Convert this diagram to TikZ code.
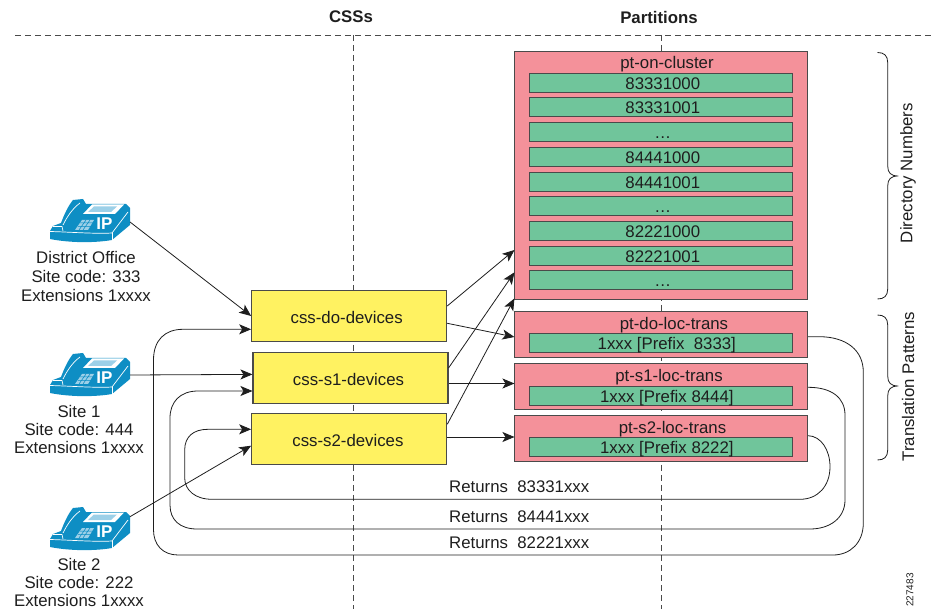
\documentclass[tikz,border=0pt]{standalone}
\usepackage{fontspec}
\setmainfont{Liberation Sans}
\usetikzlibrary{arrows.meta,positioning,calc}
\definecolor{phoneblue}{HTML}{0E8EC4}
\definecolor{keyblue}{HTML}{9CD0E8}
\definecolor{redbox}{HTML}{F4919A}
\definecolor{greenbox}{HTML}{70C59B}
\definecolor{yellowbox}{HTML}{FFF261}
\definecolor{edgegray}{HTML}{4A4A4A}
\definecolor{inkdark}{HTML}{1E1E1E}
\tikzset{
  lbl/.style={font=\fontsize{16.8}{18}\selectfont,text=inkdark,inner sep=0pt},
  hdr/.style={font=\fontsize{16.8}{18}\selectfont\bfseries,text=inkdark,inner sep=0pt},
  cssbox/.style={draw=edgegray,line width=1.1pt,fill=yellowbox,lbl,minimum width=195pt,minimum height=51pt,text height=15pt,text depth=0pt},
  partbox/.style={draw=edgegray,line width=1pt,fill=redbox,minimum width=292.7pt},
  rowbox/.style={draw=edgegray,line width=1pt,fill=greenbox,lbl,minimum width=263pt,minimum height=19pt,text height=13pt,text depth=0pt},
  conn/.style={draw=inkdark,line width=0.8pt,-{Stealth[length=12pt,width=10pt,inset=3pt]}},
  loopline/.style={draw=inkdark,line width=0.8pt,-{Stealth[length=12pt,width=10pt,inset=3pt]}},
  divider/.style={draw=edgegray,line width=0.9pt,dash pattern=on 6pt off 4pt},
  bracepath/.style={draw=inkdark,line width=0.8pt},
  phonebody/.style={fill=phoneblue,draw=none},
  phoneline/.style={draw=white,line width=0.7pt},
  phonespot/.style={minimum width=80pt,minimum height=44pt,inner sep=0pt,outer sep=0pt}
}
\newcommand{\ipphoneicon}[2]{%
\begin{scope}[shift={(#1,#2)}]
  % handset and body silhouette
  \fill[phonebody] (0,32) -- (3,27) -- (11,24) .. controls (14,16) and (18,7) .. (23,1)
     -- (33,0) -- (36,5) -- (76,5) -- (80,9) -- (80,26) -- (62,41)
     .. controls (45,44) and (20,44) .. (0,40) -- cycle;
  % front edge of the base
  \draw[phoneline] (0,32.5) .. controls (20,33) and (45,35) .. (62,34) -- (78,13);
  \draw[phoneline] (62,34) -- (62,41);
  % handset outline
  \draw[phoneline] (3,27.5) -- (12,27.5) -- (13,32);
  \draw[phoneline] (13,26) .. controls (17,18) and (22,10) .. (30,4);
  % screen
  \fill[white] (33,15) -- (42,5.5) -- (74,5.5) -- (65,15) -- cycle;
  \fill[keyblue] (38,13) -- (44,7.5) -- (67,7.5) -- (61,13) -- cycle;
  % keypad
  \fill[keyblue] (25,31) -- (32,21) -- (44,21) -- (38,31) -- cycle;
  \draw[phonebody,draw=phoneblue,line width=0.5pt]
     (28,27.5) -- (41,27.5) (30,24) -- (43,24)
     (29,31) -- (36,21) (33,31) -- (40,21);
  % label
  \node[inner sep=0pt,text=white,font=\fontsize{17}{17}\selectfont\bfseries] (ipmark#2) at (54.5,25) {IP};
\end{scope}}
\newcommand{\brcshape}[3]{%
  \draw[bracepath] (877.5,#1) .. controls (884,#1) and (887.7,{#1+3}) .. (887.7,{#1+10})
    -- (887.7,{#2-10}) .. controls (887.7,{#2-3}) and (891,#2) .. (898.3,#2)
    .. controls (891,#2) and (887.7,{#2+3}) .. (887.7,{#2+10})
    -- (887.7,{#3-10}) .. controls (887.7,{#3-3}) and (884,#3) .. (877.5,#3);}
\begin{document}
\begin{tikzpicture}[x=1pt,y=-1pt]
\useasboundingbox (0,0) rectangle (932,609);
% dividers
\coordinate (ruleL) at (15,35);
\coordinate (ruleR) at (932,35);
\coordinate (cssTop) at (353,35);
\coordinate (cssEnd) at (353,609);
\coordinate (partTop) at (661,35);
\coordinate (partEnd) at (661,609);
\draw[divider] (ruleL) -- (ruleR);
\draw[divider] (cssTop) -- (cssEnd);
\draw[divider] (partTop) -- (partEnd);
% headers
\node[hdr] (hcss) at (351,17) {CSSs};
\node[hdr] (hpart) at (659,18) {Partitions};
% phones
\node[phonespot] (phoneA) at (90,221) {};
\node[phonespot] (phoneB) at (90,375) {};
\node[phonespot] (phoneC) at (90,529) {};
\ipphoneicon{50}{199}
\ipphoneicon{50}{353}
\ipphoneicon{50}{507}
\node[lbl,align=center,font=\fontsize{16.8}{19}\selectfont] (siteA) at (86,276) {District Office\\Site code: 333\\Extensions 1xxxx};
\node[lbl,align=center,font=\fontsize{16.8}{18.2}\selectfont] (siteB) at (79,429.5) {Site 1\\Site code: 444\\Extensions 1xxxx};
\node[lbl,align=center,font=\fontsize{16.8}{18}\selectfont] (siteC) at (79,582.5) {Site 2\\Site code: 222\\Extensions 1xxxx};
% CSS boxes
\node[cssbox] (cssdo) at (349.2,316) {\hspace*{-5pt}css-do-devices};
\node[cssbox] (csss1) at (350.5,377.7) {\hspace*{-4pt}css-s1-devices};
\node[cssbox] (csss2) at (349.2,438.7) {\hspace*{-2.5pt}css-s2-devices};
% partition boxes
\node[partbox,minimum height=247.3pt] (ptcluster) at (661.3,175.4) {};
\node[lbl] (ptclusterT) at (667,64.5) {pt-on-cluster};
\node[rowbox] (r1) at (660.8,82.8) {\hspace*{4pt}83331000};
\node[rowbox] (r2) at (660.8,107.5) {\hspace*{4pt}83331001};
\node[rowbox] (r3) at (660.8,132.2) {\hspace*{4pt}…};
\node[rowbox] (r4) at (660.8,157) {\hspace*{4pt}84441000};
\node[rowbox] (r5) at (660.8,181.8) {\hspace*{4pt}84441001};
\node[rowbox] (r6) at (660.8,206.5) {\hspace*{4pt}…};
\node[rowbox] (r7) at (660.8,231.2) {\hspace*{4pt}82221000};
\node[rowbox] (r8) at (660.8,255.8) {\hspace*{4pt}82221001};
\node[rowbox] (r9) at (660.8,280.5) {\hspace*{4pt}…};
\node[partbox,minimum height=45.6pt] (ptdo) at (661.3,334.5) {};
\node[lbl] (ptdoT) at (674,325) {pt-do-loc-trans};
\node[rowbox] (tdo) at (660.8,343.5) {\hspace*{12pt}1xxx [Prefix\ \ 8333]};
\node[partbox,minimum height=45.6pt] (pts1) at (661.3,386.5) {};
\node[lbl] (pts1T) at (669,377) {pt-s1-loc-trans};
\node[rowbox] (ts1) at (660.8,395.7) {\hspace*{12pt}1xxx [Prefix 8444]};
\node[partbox,minimum height=46pt] (pts2) at (661.3,438.7) {};
\node[lbl] (pts2T) at (672.5,429) {pt-s2-loc-trans};
\node[rowbox] (ts2) at (660.8,446.8) {\hspace*{12pt}1xxx [Prefix 8222]};
% returns labels
\node[lbl,anchor=west] (ret1) at (449,487) {Returns\ \ 83331xxx};
\node[lbl,anchor=west] (ret2) at (449,517) {Returns\ \ 84441xxx};
\node[lbl,anchor=west] (ret3) at (449,543) {Returns\ \ 82221xxx};
% straight connectors
\draw[conn] ([yshift=-1pt]phoneA.east) -- (cssdo.west);
\draw[conn] (phoneB.east) -- ([yshift=3.3pt]csss1.west);
\draw[conn] ([yshift=12.3pt]phoneC.east) -- ([yshift=-7pt]csss2.west);
\draw[conn] ([yshift=10pt]cssdo.east) -- ([yshift=-74.6pt]ptcluster.west);
\draw[conn] ([yshift=9.7pt]csss1.east) -- ([yshift=-96.9pt]ptcluster.west);
\draw[conn] ([yshift=14.4pt]csss2.east) -- ([yshift=-123pt]ptcluster.west);
\draw[conn] ([yshift=-7.3pt]cssdo.east) -- ([yshift=-2.5pt]ptdo.west);
\draw[conn] ([yshift=-5.8pt]csss1.east) -- ([yshift=3pt]pts1.west);
\draw[conn] ([yshift=1.7pt]csss2.east) -- ([yshift=1.7pt]pts2.west);
% return loops
\draw[loopline] ([yshift=-2.2pt]ptdo.east) -- (820,336.7)
  .. controls (846,337) and (863.3,350) .. (863.3,372)
  -- (863.3,523) .. controls (863.3,543) and (850,555) .. (833,555)
  -- (178,555) .. controls (163,555) and (153.5,545) .. (153.5,530)
  -- (153.5,360) .. controls (153.5,340) and (165,329.3) .. (183,329.3)
  -- ([yshift=-13.3pt]cssdo.west);
\draw[loopline] ([yshift=-0.8pt]pts1.east)
  .. controls (832,387.3) and (845,398) .. (845,415)
  -- (845,500) .. controls (845,518) and (830,529) .. (810,529)
  -- (197,529) .. controls (180,529) and (170,520) .. (170,505)
  -- (170,418) .. controls (170,402) and (180,391) .. (198,391)
  -- ([yshift=-13.3pt]csss1.west);
\draw[loopline] ([yshift=3pt]pts2.east)
  .. controls (821,436) and (830,450) .. (830,466.7)
  .. controls (830,486) and (818,499.3) .. (800,499.3)
  -- (212,499.3) .. controls (195,499.3) and (184.7,490) .. (184.7,478)
  -- (184.7,450) .. controls (184.7,437) and (193,429.3) .. (208,429.3)
  -- ([yshift=9.4pt]csss2.west);
% braces
\brcshape{52.5}{176}{299}
\brcshape{315}{386}{460}
\node[lbl,rotate=90] (dirnum) at (908,173) {Directory Numbers};
\node[lbl,rotate=90] (transpat) at (908,386.7) {Translation Patterns};
\node[inner sep=0pt,text=inkdark,rotate=90,font=\fontsize{10}{10}\selectfont] (figid) at (910,590) {227483};
\end{tikzpicture}
\end{document}
